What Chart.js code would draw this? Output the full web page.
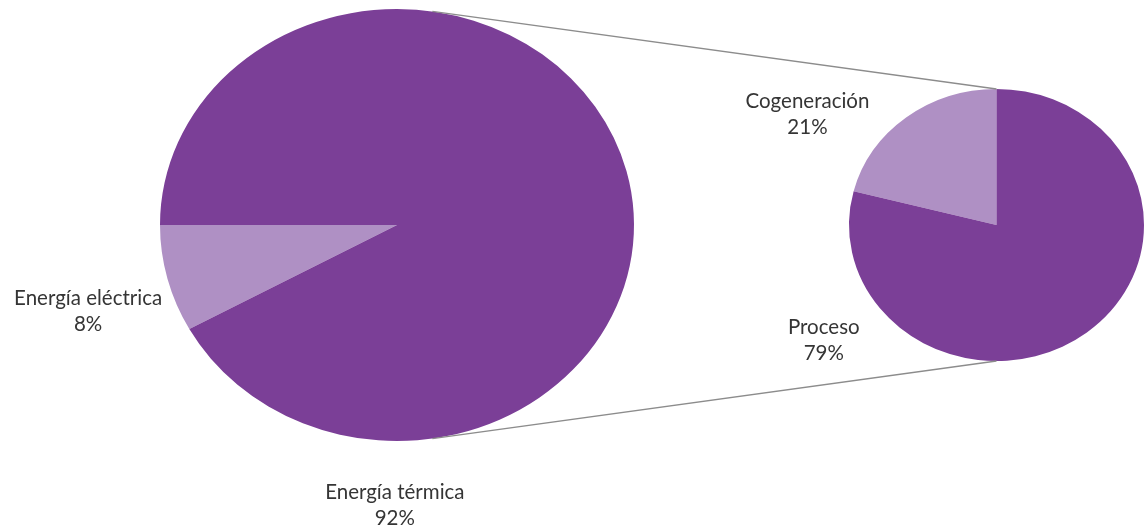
<!DOCTYPE html>
<html>
<head>
<meta charset="utf-8">
<script src="https://cdn.jsdelivr.net/npm/chart.js@4.4.1/dist/chart.umd.min.js"></script>
<style>
  html, body { margin: 0; padding: 0; background: #ffffff; }
  #wrap { position: relative; width: 1145px; height: 529px; overflow: hidden; }
  #wrap canvas { position: absolute; left: 0; top: 0; }
</style>
</head>
<body>
<div id="wrap">
  <canvas id="mainPie" width="1145" height="529"></canvas>
  <canvas id="subPie" width="1145" height="529"></canvas>
</div>
<script>
// Primary pie: share of each energy type
const mainLabels = ['Energía eléctrica', 'Energía térmica'];
const mainValues = [8, 92];

// Secondary pie: breakdown of thermal energy
const subLabels = ['Cogeneración', 'Proceso'];
const subValues = [21, 79];

const DARK = '#7b3f97';
const LIGHT = '#af90c4';
const TEXT = '#353535';
const FONT = '20.5px Lato, "Open Sans", sans-serif';

// Stretch the pie horizontally into an ellipse around its centre
function ellipsePlugin(stretch) {
  return {
    id: 'ellipse',
    beforeDatasetsDraw(chart) {
      const arc = chart.getDatasetMeta(0).data[0];
      const ctx = chart.ctx;
      ctx.save();
      ctx.translate(arc.x, arc.y);
      ctx.scale(stretch, 1);
      ctx.translate(-arc.x, -arc.y);
    },
    afterDatasetsDraw(chart) {
      chart.ctx.restore();
    }
  };
}

// Two-line data labels ("name" / "value%") placed relative to the pie centre
function labelPlugin(offsets) {
  return {
    id: 'sliceLabels',
    afterDraw(chart) {
      const meta = chart.getDatasetMeta(0);
      const arc = meta.data[0];
      const r = arc.outerRadius;
      const ctx = chart.ctx;
      const labels = chart.data.labels;
      const values = chart.data.datasets[0].data;
      ctx.save();
      ctx.font = FONT;
      ctx.fillStyle = TEXT;
      ctx.textAlign = 'center';
      ctx.textBaseline = 'middle';
      labels.forEach((name, i) => {
        const [fx, fy] = offsets[i];
        const x = arc.x + fx * r;
        const y = arc.y + fy * r;
        ctx.fillText(name, x, y - 13);
        ctx.fillText(values[i] + '%', x, y + 13);
      });
      ctx.restore();
    }
  };
}

function pieOptions(rotation, padding) {
  return {
    responsive: false,
    animation: false,
    rotation: rotation,
    layout: { padding: padding },
    plugins: { legend: { display: false }, tooltip: { enabled: false } },
    elements: { arc: { borderWidth: 0 } }
  };
}

const W = 1145, H = 529;

// The small slice ends at the 9 o'clock position
const mainRotation = 270 - 360 * mainValues[0] / 100;
const MAIN_STRETCH = 237 / 216;
const mainChart = new Chart(document.getElementById('mainPie'), {
  type: 'pie',
  data: {
    labels: mainLabels,
    datasets: [{ data: mainValues, backgroundColor: [LIGHT, DARK] }]
  },
  options: pieOptions(mainRotation, { left: 181, top: 9, right: W - 613, bottom: H - 441 }),
  plugins: [ellipsePlugin(MAIN_STRETCH), labelPlugin([[-1.43, 0.40], [-0.01, 1.30]])]
});

// The small slice ends at 12 o'clock
const subRotation = 360 - 360 * subValues[0] / 100;
const SUB_STRETCH = 147.5 / 136;

// Connector lines: tangents from the top and bottom of the secondary pie to the primary ellipse
const connectorPlugin = {
  id: 'connectors',
  afterDatasetsDraw(chart) {
    const a = mainChart.getDatasetMeta(0).data[0];
    const b = chart.getDatasetMeta(0).data[0];
    const ax = a.outerRadius * MAIN_STRETCH, ay = a.outerRadius;
    const ctx = chart.ctx;
    ctx.save();
    ctx.strokeStyle = '#8c8c8c';
    ctx.lineWidth = 1.3;
    [-1, 1].forEach(side => {
      const px = b.x, py = b.y + side * b.outerRadius;
      const u = (px - a.x) / ax, v = (py - a.y) / ay;
      const d = Math.hypot(u, v);
      const t = Math.atan2(v, u) + side * Math.acos(1 / d);
      ctx.beginPath();
      ctx.moveTo(a.x + ax * Math.cos(t), a.y + ay * Math.sin(t));
      ctx.lineTo(px, py);
      ctx.stroke();
    });
    ctx.restore();
  }
};

const subChart = new Chart(document.getElementById('subPie'), {
  type: 'pie',
  data: {
    labels: subLabels,
    datasets: [{ data: subValues, backgroundColor: [LIGHT, DARK] }]
  },
  options: pieOptions(subRotation, { left: 860.5, top: 89, right: 12.5, bottom: H - 361 }),
  plugins: [ellipsePlugin(SUB_STRETCH), connectorPlugin, labelPlugin([[-1.39, -0.81], [-1.27, 0.85]])]
});
</script>
</body>
</html>
